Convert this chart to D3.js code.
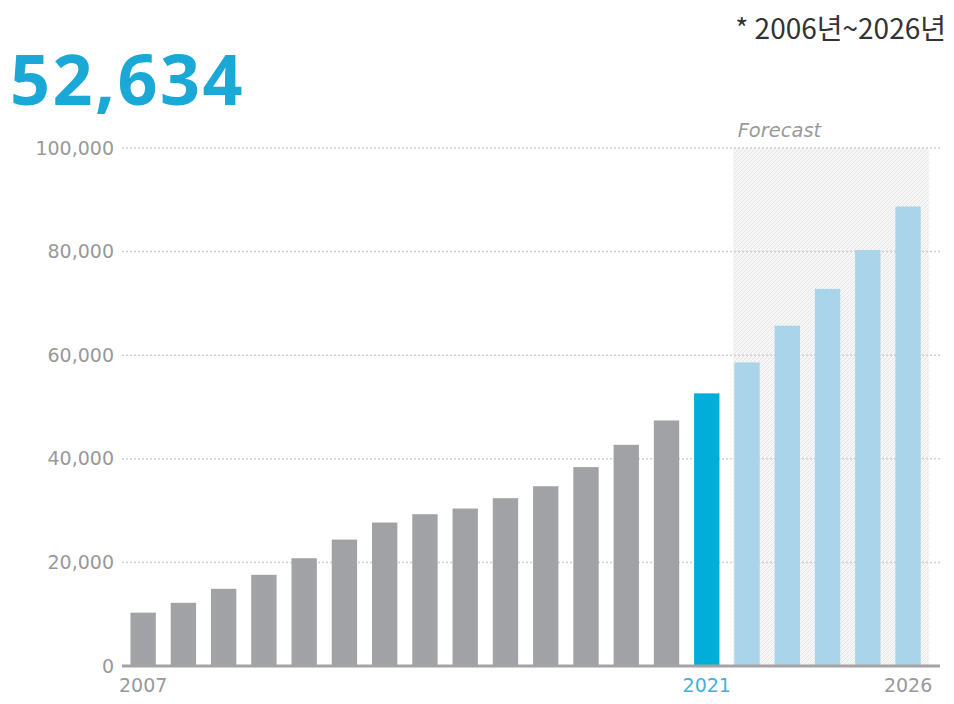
<!DOCTYPE html>
<html>
<head>
<meta charset="utf-8">
<script src="https://cdn.jsdelivr.net/npm/d3@7"></script>
<style>
  html, body { margin: 0; padding: 0; background: #fff; }
  svg { display: block; }
</style>
</head>
<body>
<svg id="chart" width="954" height="704"></svg>
<script>
// Values.
const years = d3.range(2007, 2027);
const values = [
  10300, 12200, 14900, 17600, 20800, 24400, 27700, 29300, 30400, 32400,
  34700, 38400, 42700, 47400, 52634, 58600, 65700, 72800, 80300, 88700
];
const yTicks = [0, 20000, 40000, 60000, 80000, 100000];
const xLabels = [2007, 2021, 2026];
const currentYear = 2021;
const headline = "52,634";
const rangeNote = "* 2006년~2026년";
const forecastLabel = "Forecast";

const data = years.map((year, i) => ({ year, value: values[i] }));

const svg = d3.select("#chart");

const x = d3.scaleBand()
  .domain(years)
  .range([122.4, 928.8])
  .paddingInner(0.37)
  .paddingOuter(0.2);

const y = d3.scaleLinear()
  .domain([0, 100000])
  .range([666, 148]);

const axisLeft = 122;
const axisRight = 940;

// Hatched fill for the forecast area.
const defs = svg.append("defs");
const hatch = defs.append("pattern")
  .attr("id", "hatch")
  .attr("patternUnits", "userSpaceOnUse")
  .attr("width", 4)
  .attr("height", 4);
hatch.append("rect").attr("width", 4).attr("height", 4).attr("fill", "#f6f6f6");
hatch.append("path")
  .attr("d", "M-1,1 L1,-1 M0,4 L4,0 M3,5 L5,3")
  .attr("stroke", "#e4e4e4")
  .attr("stroke-width", 1);

const forecastYears = years.filter((yr) => yr > currentYear);
const fx0 = x(forecastYears[0]) - 1;
const fx1 = x.range()[1];
svg.append("rect")
  .attr("x", fx0)
  .attr("y", y(100000))
  .attr("width", fx1 - fx0)
  .attr("height", y(0) - y(100000))
  .attr("fill", "url(#hatch)");

svg.append("text")
  .attr("x", (fx0 + x(forecastYears[2]) + x.bandwidth() / 2) / 2 - 1)
  .attr("y", 137)
  .attr("text-anchor", "middle")
  .attr("font-family", "DejaVu Sans")
  .attr("font-style", "italic")
  .attr("font-size", 19.5)
  .attr("fill", "#9a9a9a")
  .text(forecastLabel);

// Dotted gridlines.
svg.append("g")
  .selectAll("line")
  .data(yTicks.filter((t) => t > 0))
  .join("line")
  .attr("x1", axisLeft)
  .attr("x2", axisRight)
  .attr("y1", (d) => y(d))
  .attr("y2", (d) => y(d))
  .attr("stroke", "#cfcfcf")
  .attr("stroke-width", 1.5)
  .attr("stroke-dasharray", "2,2");

// Y axis labels.
const yAxis = svg.append("g")
  .attr("transform", "translate(114,0)")
  .call(d3.axisLeft(y).tickValues(yTicks).tickSize(0).tickPadding(0).tickFormat(d3.format(",")));
yAxis.select(".domain").remove();
yAxis.selectAll("text")
  .attr("font-family", "DejaVu Sans")
  .attr("font-size", 19)
  .attr("fill", "#999");

// Bars.
const barColor = (yr) => yr < currentYear ? "#a0a2a5" : yr === currentYear ? "#00aed9" : "#a9d4ea";
svg.append("g")
  .selectAll("rect")
  .data(data)
  .join("rect")
  .attr("x", (d) => x(d.year))
  .attr("y", (d) => y(d.value))
  .attr("width", x.bandwidth())
  .attr("height", (d) => y(0) - y(d.value))
  .attr("fill", (d) => barColor(d.year));

// Baseline.
svg.append("line")
  .attr("x1", axisLeft)
  .attr("x2", axisRight)
  .attr("y1", y(0))
  .attr("y2", y(0))
  .attr("stroke", "#a3a3a3")
  .attr("stroke-width", 3);

// X axis labels (only a few years are labelled).
const xAxis = svg.append("g")
  .attr("transform", `translate(0,${y(0) + 8})`)
  .call(d3.axisBottom(x).tickValues(xLabels).tickSize(0).tickPadding(0));
xAxis.select(".domain").remove();
xAxis.selectAll("text")
  .attr("dy", "0.95em")
  .attr("font-family", "DejaVu Sans")
  .attr("font-size", 19)
  .attr("fill", (d) => d === currentYear ? "#3fb3dc" : "#999");

// Headline number and note.
svg.append("text")
  .attr("x", 10)
  .attr("y", 105)
  .attr("font-family", "Open Sans")
  .attr("font-weight", 700)
  .attr("font-size", 70)
  .attr("letter-spacing", 2.5)
  .attr("fill", "#1aa9d6")
  .text(headline);

svg.append("text")
  .attr("x", 946)
  .attr("y", 39)
  .attr("text-anchor", "end")
  .attr("font-family", "Noto Sans CJK KR")
  .attr("font-size", 28)
  .attr("fill", "#333")
  .text(rangeNote);
</script>
</body>
</html>
